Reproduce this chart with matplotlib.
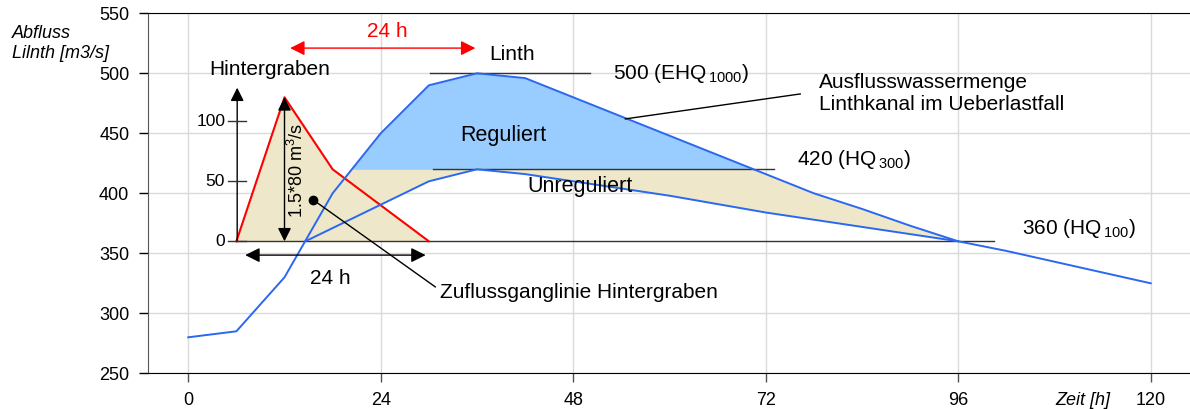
import numpy as np
import matplotlib
matplotlib.use("Agg")
import matplotlib.pyplot as plt
from matplotlib.transforms import blended_transform_factory

plt.rcParams['font.family'] = ['Liberation Sans', 'DejaVu Sans']
plt.rcParams['mathtext.fontset'] = 'custom'
plt.rcParams['mathtext.rm'] = 'Liberation Sans'
plt.rcParams['mathtext.it'] = 'Liberation Sans:italic'
plt.rcParams['mathtext.default'] = 'regular'

# ---------------- data ----------------
x_ticks = [0, 24, 48, 72, 96, 120]
y_ticks = [250, 300, 350, 400, 450, 500, 550]

# Linth hydrograph (EHQ1000)
t_linth = [0, 6, 12, 18, 24, 30, 36, 42, 48, 54, 60, 66, 72, 78, 84, 90, 96, 102, 108, 114, 120]
q_linth = [280, 285, 330, 400, 450, 490, 500, 496, 480, 464, 448, 432, 416, 400, 387, 373, 360, 352, 343, 334, 325]

# Unregulated outflow curve
t_unreg = [14.6, 30, 36, 42, 48, 54, 60, 66, 72, 78, 84, 90, 96]
q_unreg = [360, 410, 420, 416, 410, 404, 398, 391, 384, 378, 372, 366, 360]

# Hintergraben inflow (relative to base level)
t_hg = [6, 12, 18, 30]
q_hg = [0, 120, 60, 0]
hg_base = 360
hg_ticks = [0, 50, 100]

levels = {"EHQ": 500, "HQ300": 420, "HQ100": 360}

# ---------------- figure ----------------
W, H = 1190, 409
fig = plt.figure(figsize=(W / 100, H / 100), dpi=100)
ax = fig.add_axes([148 / W, 1 - 373.3 / H, 1 - 148 / W, (373.3 - 13.3) / H])
ax.set_xlim(-5.02, 124.9)
ax.set_ylim(250, 550)

beige = "#EEE7C9"
lightblue = "#99CCFF"
blue = "#2A68F2"

ax.set_xticks(x_ticks)
ax.set_yticks(y_ticks)
ax.grid(True, color="#DADADA", lw=1.0, zorder=0)
ax.set_axisbelow(True)
ax.spines['right'].set_visible(False)
ax.spines['left'].set_color("#555555")
ax.spines['bottom'].set_color("black")
ax.spines['top'].set_color("black")
ax.tick_params(axis='y', direction='out', length=6.5, width=1, color='black', labelsize=13, pad=7)
ax.tick_params(axis='x', direction='out', length=6.5, width=1, color='#555555', labelsize=13, pad=7)

t_linth_a = np.array(t_linth, dtype=float)
q_linth_a = np.array(q_linth, dtype=float)
t_hg_a = np.array(t_hg, dtype=float)
q_hg_abs = hg_base + np.array(q_hg, dtype=float)

# Hintergraben triangle fill
ax.fill_between(t_hg_a, hg_base, q_hg_abs, color=beige, lw=0, zorder=1)

# band between unregulated curve and Linth curve
mask = (t_linth_a > t_unreg[0]) & (t_linth_a < t_unreg[-1])
poly_x = list(t_linth_a[mask]) + list(t_unreg[::-1])
poly_y = list(q_linth_a[mask]) + list(q_unreg[::-1])
ax.fill(poly_x, poly_y, color=beige, lw=0, zorder=1)

# regulated part above HQ300
ax.fill_between(t_linth_a, levels["HQ300"], q_linth_a, where=q_linth_a > levels["HQ300"],
                interpolate=True, color=lightblue, lw=0, zorder=2)

# reference level lines
ax.plot([30.2, 50.1], [levels["EHQ"]] * 2, color="#333333", lw=1, zorder=3)
ax.plot([30.5, 73.0], [levels["HQ300"]] * 2, color="#333333", lw=1, zorder=3)
ax.plot([6.0, 100.4], [levels["HQ100"]] * 2, color="#333333", lw=1, zorder=3)

# curves
ax.plot(t_hg_a, q_hg_abs, color="red", lw=1.5, zorder=4)
ax.plot(t_linth, q_linth, color=blue, lw=1.4, zorder=5)
ax.plot(t_unreg, q_unreg, color=blue, lw=1.4, zorder=5)

# inset axis for Hintergraben
ax.annotate("", xy=(6.1, 488), xytext=(6.1, hg_base),
            arrowprops=dict(arrowstyle="-|>", color="black", lw=1, mutation_scale=20,
                            shrinkA=0, shrinkB=0), zorder=6)
for v in hg_ticks:
    yy = hg_base + v
    ax.plot([5.0, 7.2], [yy, yy], color="#333333", lw=1, zorder=6)
    ax.text(4.6, yy, str(v), ha="right", va="center", fontsize=12.5, zorder=6)

# vertical double arrow 1.5*80
ax.annotate("", xy=(12, hg_base + q_hg[1]), xytext=(12, hg_base),
            arrowprops=dict(arrowstyle="<|-|>", color="black", lw=1, mutation_scale=20,
                            shrinkA=0, shrinkB=0), zorder=6)
ax.text(13.5, 419, r"1.5*80 m$^3$/s", rotation=90, ha="center", va="center", fontsize=13, zorder=6)

# horizontal double arrow 24 h (black)
ax.annotate("", xy=(29.6, 348.5), xytext=(7.1, 348.5),
            arrowprops=dict(arrowstyle="<|-|>", color="black", lw=1, mutation_scale=22,
                            shrinkA=0, shrinkB=0), zorder=6)
ax.text(17.7, 329, "24 h", ha="center", va="center", fontsize=15, zorder=6)

# red double arrow 24 h
ax.annotate("", xy=(35.8, 521), xytext=(12.7, 521),
            arrowprops=dict(arrowstyle="<|-|>", color="red", lw=1, mutation_scale=22,
                            shrinkA=0, shrinkB=0), zorder=6)
ax.text(24.8, 535, "24 h", ha="center", va="center", fontsize=15, color="red", zorder=6)

# labels
ax.text(10.2, 503.5, "Hintergraben", ha="center", va="center", fontsize=15, zorder=6)
ax.text(40.4, 516, "Linth", ha="center", va="center", fontsize=15, zorder=6)
ax.text(39.3, 448, "Reguliert", ha="center", va="center", fontsize=15.5, zorder=6)
ax.text(48.9, 406, "Unreguliert", ha="center", va="center", fontsize=15.5, zorder=6)
ax.text(52.9, 500, r"500 (EHQ$_{\,1000}$)", ha="left", va="center", fontsize=15, zorder=6)
ax.text(75.9, 428, r"420 (HQ$_{\,300}$)", ha="left", va="center", fontsize=15, zorder=6)
ax.text(104.0, 371, r"360 (HQ$_{\,100}$)", ha="left", va="center", fontsize=15, zorder=6)

# Ausfluss annotation
ax.plot([54.5, 76.3], [462, 482.8], color="black", lw=1, zorder=6)
ax.text(78.6, 483.5, "Ausflusswassermenge\nLinthkanal im Ueberlastfall", ha="left", va="center",
        fontsize=15, linespacing=1.2, zorder=6)

# Zufluss annotation
ax.plot([15.6], [394.4], "o", color="black", ms=6, zorder=7)
ax.plot([15.6, 30.8], [394.4, 322], color="black", lw=1, zorder=6)
ax.text(31.4, 317, "Zuflussganglinie Hintergraben", ha="left", va="center", fontsize=15, zorder=6)

# axis titles
trans = blended_transform_factory(ax.transData, ax.transAxes)
ax.text(111.6, -0.076, "Zeit [h]", transform=trans, ha="center", va="center",
        fontsize=13, style="italic", clip_on=False)
fig.text(12 / W, 1 - 43.5 / H, "Abfluss\nLilnth [m3/s]", ha="left", va="center",
         fontsize=13, style="italic", linespacing=1.3)

fig.savefig("out.png", dpi=100)
